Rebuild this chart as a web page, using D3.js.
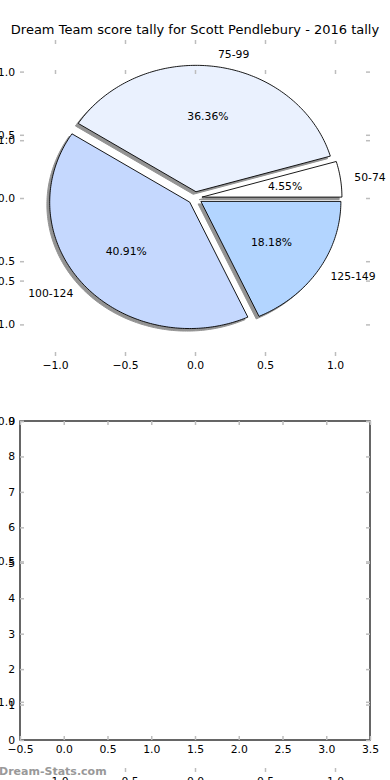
<!doctype html>
<html>
  <head>
    <meta charset="utf-8" />
    <script src="https://cdn.jsdelivr.net/npm/d3@7"></script>
    <style>
      html,
      body {
        margin: 0;
        padding: 0;
        background: #fff;
        overflow: hidden;
      }
      svg {
        display: block;
        font-family: "DejaVu Sans", sans-serif;
      }
    </style>
  </head>
  <body>
    <script>
      // score brackets and how many games fell in each (22 games)
      const tallyLabels = ["50-74", "75-99", "100-124", "125-149"];
      const tallyCounts = [1, 8, 9, 4];
      const tallyColors = ["#ffffff", "#eaf1fe", "#c5d8fe", "#b3d5ff"];

      // tick values of the three overlapping axes
      const pieTicks = [-1, -0.5, 0, 0.5, 1];
      const barXTicks = [-0.5, 0, 0.5, 1, 1.5, 2, 2.5, 3, 3.5];
      const barYTicks = [0, 1, 2, 3, 4, 5, 6, 7, 8, 9];

      const width = 390;
      const height = 780;
      const explode = 0.05;
      const tickColor = "#bdbdbd";
      const fontSize = "10.8px";

      const svg = d3
        .select("body")
        .append("svg")
        .attr("width", width)
        .attr("height", height);

      // pie axes (top subplot) and the stray full-height axes
      const xP = d3.scaleLinear().domain([-1.25, 1.25]).range([20, 370]);
      const yP = d3.scaleLinear().domain([-1.25, 1.25]).range([356, 40]);
      const xQ = d3.scaleLinear().domain([-1.25, 1.25]).range([20, 370]);
      const yQ = d3.scaleLinear().domain([-1.25, 1.25]).range([772, 70]);
      // empty bottom subplot
      const xB = d3.scaleLinear().domain([-0.5, 3.5]).range([20, 370]);
      const yB = d3.scaleLinear().domain([0, 9]).range([740, 421]);

      function styleAxis(g) {
        g.attr("font-family", null).attr("font-size", null);
        g.select(".domain").remove();
        g.selectAll(".tick line")
          .attr("stroke", tickColor)
          .attr("stroke-width", 1.5);
        g.selectAll(".tick text")
          .attr("fill", "#000")
          .style("font-size", fontSize);
      }

      // draws inward ticks on all four sides, labels on left and bottom
      function drawAxes(x, y, xTicks, yTicks, xFmt, yFmt) {
        const [x0, x1] = x.range();
        const [y1, y0] = y.range();
        svg
          .append("g")
          .attr("transform", `translate(${x0},0)`)
          .call(
            d3.axisLeft(y).tickValues(yTicks).tickFormat(yFmt).tickSize(-4).tickPadding(5),
          )
          .call(styleAxis);
        svg
          .append("g")
          .attr("transform", `translate(${x1},0)`)
          .call(d3.axisRight(y).tickValues(yTicks).tickFormat("").tickSize(-4))
          .call(styleAxis);
        svg
          .append("g")
          .attr("transform", `translate(0,${y1})`)
          .call(
            d3.axisBottom(x).tickValues(xTicks).tickFormat(xFmt).tickSize(-4).tickPadding(5),
          )
          .call(styleAxis);
        svg
          .append("g")
          .attr("transform", `translate(0,${y0})`)
          .call(d3.axisTop(x).tickValues(xTicks).tickFormat("").tickSize(-4))
          .call(styleAxis);
      }

      // bottom subplot frame
      svg
        .append("rect")
        .attr("x", xB(-0.5))
        .attr("y", yB(9))
        .attr("width", xB(3.5) - xB(-0.5))
        .attr("height", yB(0) - yB(9))
        .attr("fill", "none")
        .attr("stroke", "#000")
        .attr("stroke-width", 1.2);

      drawAxes(xB, yB, barXTicks, barYTicks, d3.format(".1f"), d3.format("d"));

      // pie
      const total = d3.sum(tallyCounts);
      const slices = d3.pie().sort(null)(tallyCounts);
      const line = d3
        .line()
        .x((d) => xP(d[0]))
        .y((d) => yP(d[1]));

      function wedgePoints(s, dx, dy) {
        const mid = (s.startAngle + s.endAngle) / 2;
        const cx = explode * Math.cos(mid) + dx;
        const cy = explode * Math.sin(mid) + dy;
        const pts = [[cx, cy]];
        const n = Math.max(8, Math.ceil((s.endAngle - s.startAngle) * 60));
        for (let i = 0; i <= n; i++) {
          const t = s.startAngle + ((s.endAngle - s.startAngle) * i) / n;
          pts.push([cx + Math.cos(t), cy + Math.sin(t)]);
        }
        return pts;
      }

      const pie = svg.append("g");
      pie
        .selectAll("path.shadow")
        .data(slices)
        .join("path")
        .attr("class", "shadow")
        .attr("d", (s) => line(wedgePoints(s, -0.02, -0.02)) + "Z")
        .attr("fill", "#3c3c3c")
        .attr("stroke", "#3c3c3c")
        .attr("stroke-width", 1)
        .attr("opacity", 0.55);

      pie
        .selectAll("path.wedge")
        .data(slices)
        .join("path")
        .attr("class", "wedge")
        .attr("d", (s) => line(wedgePoints(s, 0, 0)) + "Z")
        .attr("fill", (s, i) => tallyColors[i])
        .attr("stroke", "#000")
        .attr("stroke-width", 0.9)
        .attr("stroke-linejoin", "miter");

      pie
        .selectAll("text.pct")
        .data(slices)
        .join("text")
        .attr("class", "pct")
        .attr("x", (s) => xP((explode + 0.6) * Math.cos((s.startAngle + s.endAngle) / 2)))
        .attr("y", (s) => yP((explode + 0.6) * Math.sin((s.startAngle + s.endAngle) / 2)))
        .attr("text-anchor", "middle")
        .attr("dominant-baseline", "central")
        .style("font-size", fontSize)
        .text((s) => d3.format(".2f")((s.value / total) * 100) + "%");

      pie
        .selectAll("text.lbl")
        .data(slices)
        .join("text")
        .attr("class", "lbl")
        .each(function (s, i) {
          const mid = (s.startAngle + s.endAngle) / 2;
          const px = (explode + 1.1) * Math.cos(mid);
          const py = (explode + 1.1) * Math.sin(mid);
          d3.select(this)
            .attr("x", xP(px))
            .attr("y", yP(py))
            .attr("text-anchor", px > 0 ? "start" : "end")
            .attr("dominant-baseline", "central")
            .style("font-size", fontSize)
            .text(tallyLabels[i]);
        });

      drawAxes(xP, yP, pieTicks, pieTicks, d3.format(".1f"), d3.format(".1f"));
      drawAxes(xQ, yQ, pieTicks, pieTicks, d3.format(".1f"), d3.format(".1f"));

      svg
        .append("text")
        .attr("x", (xP.range()[0] + xP.range()[1]) / 2)
        .attr("y", 34)
        .attr("text-anchor", "middle")
        .style("font-size", "13px")
        .text("Dream Team score tally for Scott Pendlebury - 2016 tally");

      // watermark
      svg
        .append("text")
        .attr("x", -1)
        .attr("y", 775)
        .attr("fill", "#999")
        .style("font-size", "11px")
        .style("font-weight", "bold")
        .text("Dream-Stats.com");
    </script>
  </body>
</html>
